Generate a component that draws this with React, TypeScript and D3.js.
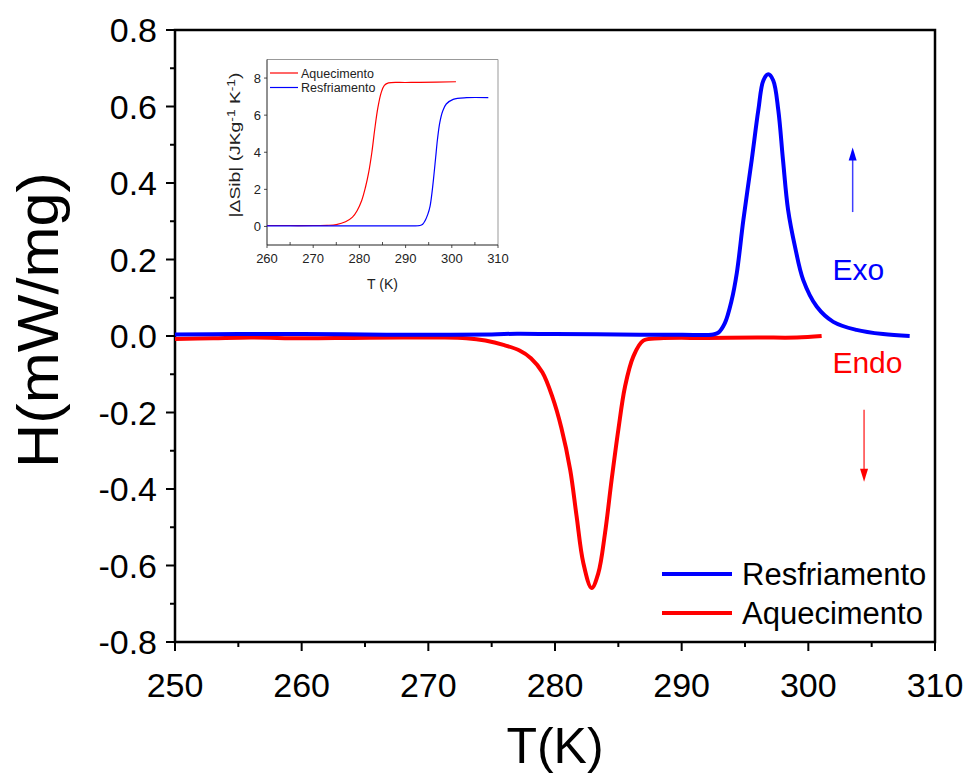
import React, { useEffect, useRef } from "react";
import * as d3 from "d3";

// Main DSC curves
const coolT = [250, 255, 260, 265, 270, 275, 277, 280, 285, 290, 292.5, 292.9, 293.4, 293.95, 294.35, 294.87, 295.53, 296.05, 296.45, 296.84, 297.23, 297.63, 298.0, 298.4, 298.95, 299.6, 300.66, 301.97, 303.8, 305.9, 308.0];
const coolH = [0.004, 0.005, 0.005, 0.004, 0.003, 0.004, 0.006, 0.005, 0.004, 0.003, 0.004, 0.009, 0.033, 0.094, 0.164, 0.303, 0.46, 0.59, 0.668, 0.684, 0.668, 0.59, 0.46, 0.33, 0.233, 0.146, 0.077, 0.037, 0.016, 0.005, 0.0];

const heatT = [250, 253, 256, 260, 264, 268, 271, 273, 274.5, 276, 277.2, 278.1, 279.0, 279.8, 280.5, 281.2, 281.7, 282.24, 282.89, 283.42, 283.95, 284.47, 285.0, 285.53, 286.18, 286.97, 288.3, 292, 296, 299.1, 301.05];
const heatH = [-0.008, -0.006, -0.004, -0.006, -0.005, -0.004, -0.004, -0.006, -0.012, -0.024, -0.038, -0.058, -0.095, -0.16, -0.24, -0.35, -0.47, -0.594, -0.659, -0.62, -0.515, -0.376, -0.245, -0.132, -0.054, -0.012, -0.006, -0.005, -0.004, -0.004, 0.0];

// Inset entropy curves
const insetHeatT = [260, 265, 270, 273, 275, 277, 278.5, 279.5, 280.5, 281.3, 282, 282.7, 283.3, 284, 284.7, 285.4, 286.3, 290, 293.1, 300.9];
const insetHeatS = [0.05, 0.05, 0.05, 0.06, 0.1, 0.25, 0.5, 0.85, 1.4, 2.1, 2.9, 4.0, 5.2, 6.4, 7.2, 7.6, 7.74, 7.76, 7.77, 7.8];
const insetCoolT = [260, 270, 280, 290, 293.1, 293.7, 294.2, 294.8, 295.3, 295.7, 296.1, 296.5, 296.9, 297.4, 298, 298.8, 300.3, 303.2, 307.9];
const insetCoolS = [0.03, 0.03, 0.03, 0.03, 0.05, 0.12, 0.3, 0.65, 1.1, 1.8, 2.7, 3.7, 4.7, 5.6, 6.2, 6.6, 6.85, 6.94, 6.94];

const xTicks = [250, 260, 270, 280, 290, 300, 310];
const yTicks = [-0.8, -0.6, -0.4, -0.2, 0.0, 0.2, 0.4, 0.6, 0.8];
const insetXTicks = [260, 270, 280, 290, 300, 310];
const insetYTicks = [0, 2, 4, 6, 8];

const FONT = "'Liberation Sans', Arial, sans-serif";
const BLUE = "#0000ff";
const RED = "#ff0000";

export default function App() {
  const svgRef = useRef<SVGSVGElement>(null);

  useEffect(() => {
    const svg = d3.select(svgRef.current);
    svg.selectAll("*").remove();

    const x = d3.scaleLinear().domain([250, 310]).range([175, 935]);
    const y = d3.scaleLinear().domain([-0.8, 0.8]).range([642, 30]);

    // frame
    svg.append("rect")
      .attr("x", 175).attr("y", 30).attr("width", 760).attr("height", 612)
      .attr("fill", "none").attr("stroke", "#000").attr("stroke-width", 2.5);

    // ticks
    const g = svg.append("g").attr("stroke", "#000").attr("stroke-width", 2);
    d3.range(255, 310, 10).forEach((t) => {
      g.append("line").attr("x1", x(t)).attr("x2", x(t)).attr("y1", 642).attr("y2", 647);
    });
    d3.range(-7, 8, 2).forEach((k) => {
      const v = k / 10;
      g.append("line").attr("x1", 170).attr("x2", 175).attr("y1", y(v)).attr("y2", y(v));
    });
    xTicks.forEach((t) => {
      g.append("line").attr("x1", x(t)).attr("x2", x(t)).attr("y1", 642).attr("y2", 651);
      svg.append("text").attr("x", x(t)).attr("y", 697)
        .attr("text-anchor", "middle").attr("font-family", FONT).attr("font-size", 34)
        .text(String(t));
    });
    yTicks.forEach((v) => {
      g.append("line").attr("x1", 166).attr("x2", 175).attr("y1", y(v)).attr("y2", y(v));
      svg.append("text").attr("x", 157).attr("y", y(v)).attr("dy", "0.36em")
        .attr("text-anchor", "end").attr("font-family", FONT).attr("font-size", 34)
        .text(v.toFixed(1));
    });

    // axis titles
    svg.append("text").attr("x", 555).attr("y", 763)
      .attr("text-anchor", "middle").attr("font-family", FONT).attr("font-size", 50)
      .text("T(K)");
    svg.append("text").attr("transform", "translate(58,320) rotate(-90)")
      .attr("text-anchor", "middle").attr("font-family", FONT).attr("font-size", 58)
      .attr("textLength", 296).attr("lengthAdjust", "spacingAndGlyphs")
      .text("H(mW/mg)");

    const line = d3.line<[number, number]>()
      .x((d) => x(d[0])).y((d) => y(d[1])).curve(d3.curveCatmullRom.alpha(0.5));

    svg.append("path").datum(heatT.map((t, i) => [t, heatH[i]] as [number, number]))
      .attr("d", line).attr("fill", "none").attr("stroke", RED).attr("stroke-width", 4)
      .attr("stroke-linejoin", "round");
    svg.append("path").datum(coolT.map((t, i) => [t, coolH[i]] as [number, number]))
      .attr("d", line).attr("fill", "none").attr("stroke", BLUE).attr("stroke-width", 4)
      .attr("stroke-linejoin", "round");

    // arrows
    const arrow = (tx: number, v0: number, v1: number, color: string) => {
      const px = x(tx);
      const p0 = y(v0);
      const p1 = y(v1);
      const dir = p1 < p0 ? 1 : -1;
      svg.append("line").attr("x1", px).attr("x2", px).attr("y1", p0).attr("y2", p1 + dir * 10)
        .attr("stroke", color).attr("stroke-width", 1.5).attr("opacity", 0.75);
      svg.append("path")
        .attr("d", `M${px},${p1} L${px - 4},${p1 + dir * 13} L${px + 4},${p1 + dir * 13} Z`)
        .attr("fill", color);
    };
    arrow(303.5, 0.324, 0.493, BLUE);
    arrow(304.4, -0.193, -0.381, RED);

    svg.append("text").attr("x", x(301.9)).attr("y", y(0.146))
      .attr("font-family", FONT).attr("font-size", 30).attr("fill", BLUE).text("Exo");
    svg.append("text").attr("x", x(301.9)).attr("y", y(-0.097))
      .attr("font-family", FONT).attr("font-size", 30).attr("fill", RED).text("Endo");

    // legend
    const legend = [
      { label: "Resfriamento", color: BLUE, yy: 574 },
      { label: "Aquecimento", color: RED, yy: 613 },
    ];
    legend.forEach((l) => {
      svg.append("line").attr("x1", 662).attr("x2", 732).attr("y1", l.yy).attr("y2", l.yy)
        .attr("stroke", l.color).attr("stroke-width", 4);
      svg.append("text").attr("x", 742).attr("y", l.yy).attr("dy", "0.36em")
        .attr("font-family", FONT).attr("font-size", 31).text(l.label);
    });

    // inset
    const ix = d3.scaleLinear().domain([260, 310]).range([267, 498]);
    const iy = d3.scaleLinear().domain([-1, 9]).range([245, 59.5]);
    const ins = svg.append("g");
    ins.append("line").attr("x1", 267).attr("x2", 498).attr("y1", 59.5).attr("y2", 59.5)
      .attr("stroke", "#999").attr("stroke-width", 1);
    ins.append("line").attr("x1", 498).attr("x2", 498).attr("y1", 59.5).attr("y2", 245)
      .attr("stroke", "#999").attr("stroke-width", 1);
    ins.append("line").attr("x1", 267).attr("x2", 267).attr("y1", 59.5).attr("y2", 245)
      .attr("stroke", "#222").attr("stroke-width", 1);
    ins.append("line").attr("x1", 267).attr("x2", 498).attr("y1", 245).attr("y2", 245)
      .attr("stroke", "#222").attr("stroke-width", 1);

    d3.range(265, 310, 10).forEach((t) => {
      ins.append("line").attr("x1", ix(t)).attr("x2", ix(t)).attr("y1", 245).attr("y2", 242)
        .attr("stroke", "#222").attr("stroke-width", 0.8);
    });
    insetXTicks.forEach((t) => {
      ins.append("line").attr("x1", ix(t)).attr("x2", ix(t)).attr("y1", 245).attr("y2", 248)
        .attr("stroke", "#222").attr("stroke-width", 0.8);
      ins.append("text").attr("x", ix(t)).attr("y", 263)
        .attr("text-anchor", "middle").attr("font-family", FONT).attr("font-size", 13)
        .attr("fill", "#222").text(String(t));
    });
    insetYTicks.forEach((v) => {
      ins.append("line").attr("x1", 264).attr("x2", 267).attr("y1", iy(v)).attr("y2", iy(v))
        .attr("stroke", "#222").attr("stroke-width", 0.8);
      ins.append("text").attr("x", 261).attr("y", iy(v)).attr("dy", "0.36em")
        .attr("text-anchor", "end").attr("font-family", FONT).attr("font-size", 13)
        .attr("fill", "#222").text(String(v));
    });
    ins.append("text").attr("x", ix(285)).attr("y", 289)
      .attr("text-anchor", "middle").attr("font-family", FONT).attr("font-size", 14)
      .attr("fill", "#222").text("T (K)");
    const yl = ins.append("text").attr("transform", "translate(240,145) rotate(-90)")
      .attr("text-anchor", "middle").attr("font-family", FONT).attr("font-size", 14)
      .attr("fill", "#222").attr("textLength", 145).attr("lengthAdjust", "spacingAndGlyphs");
    yl.append("tspan").text("|ΔSib| (JKg");
    yl.append("tspan").attr("baseline-shift", "super").attr("font-size", 10).text("-1");
    yl.append("tspan").text(" K");
    yl.append("tspan").attr("baseline-shift", "super").attr("font-size", 10).text("-1");
    yl.append("tspan").text(")");

    const iline = d3.line<[number, number]>()
      .x((d) => ix(d[0])).y((d) => iy(d[1])).curve(d3.curveCatmullRom.alpha(0.5));
    ins.append("path").datum(insetHeatT.map((t, i) => [t, insetHeatS[i]] as [number, number]))
      .attr("d", iline).attr("fill", "none").attr("stroke", RED).attr("stroke-width", 1.2);
    ins.append("path").datum(insetCoolT.map((t, i) => [t, insetCoolS[i]] as [number, number]))
      .attr("d", iline).attr("fill", "none").attr("stroke", BLUE).attr("stroke-width", 1.2);

    const ilegend = [
      { label: "Aquecimento", color: RED, yy: 73 },
      { label: "Resfriamento", color: BLUE, yy: 87.5 },
    ];
    ilegend.forEach((l) => {
      ins.append("line").attr("x1", 270).attr("x2", 298).attr("y1", l.yy).attr("y2", l.yy)
        .attr("stroke", l.color).attr("stroke-width", 1.2);
      ins.append("text").attr("x", 301).attr("y", l.yy).attr("dy", "0.36em")
        .attr("font-family", FONT).attr("font-size", 12.5).attr("fill", "#222").text(l.label);
    });
  }, []);

  return (
    <div style={{ position: "fixed", left: 0, top: 0, background: "#fff" }}>
      <svg ref={svgRef} width={970} height={774} style={{ display: "block" }} />
    </div>
  );
}
